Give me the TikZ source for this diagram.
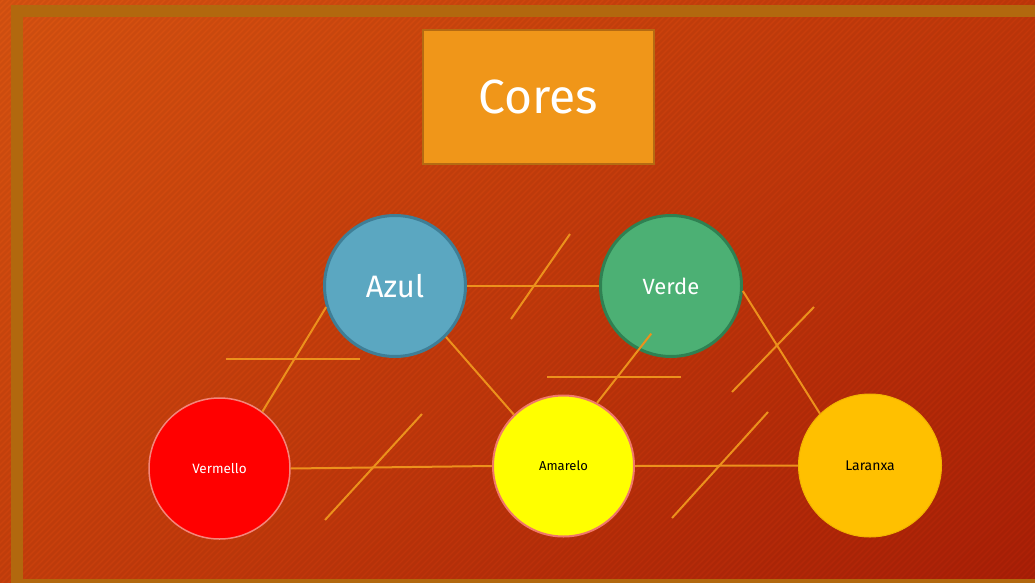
\documentclass[tikz,border=0pt]{standalone}
\usepackage{fontspec}
\setmainfont{Fira Sans}
\usetikzlibrary{shadings}
\definecolor{bgUL}{HTML}{DA5411}
\definecolor{bgUR}{HTML}{C4380A}
\definecolor{bgLL}{HTML}{C9400C}
\definecolor{bgLR}{HTML}{AC1F07}
\definecolor{frameC}{HTML}{B2680E}
\definecolor{titleF}{HTML}{F09619}
\definecolor{titleD}{HTML}{B56A12}
\definecolor{lineC}{HTML}{EC911C}
\definecolor{azulF}{HTML}{5BA7C1}
\definecolor{azulD}{HTML}{3F7E96}
\definecolor{verdeF}{HTML}{4CB074}
\definecolor{verdeD}{HTML}{2F8152}
\definecolor{vermF}{HTML}{FF0000}
\definecolor{vermD}{HTML}{F4857A}
\definecolor{amarF}{HTML}{FFFF00}
\definecolor{amarD}{HTML}{F0786A}
\definecolor{laraF}{HTML}{FFC000}
\definecolor{laraD}{HTML}{F2B400}
\tikzset{
  colorball/.style={circle, inner sep=0pt, minimum size=141pt, line width=2pt},
  link/.style={draw=lineC, line width=2pt},
  stripe/.style={draw=black, draw opacity=0.05, line width=2.5pt},
}
\begin{document}
\begin{tikzpicture}[x=1pt,y=-1pt]
\useasboundingbox (0,0) rectangle (1035,583);
\clip (0,0) rectangle (1035,583);
% background
\shade[upper left=bgUL, upper right=bgUR, lower left=bgLL, lower right=bgLR] (0,0) rectangle (1035,583);
\foreach \s in {-590,-584,...,1040} {
  \draw[stripe] (\s,590) -- (\s+600,-10);
}
% frame
\draw[frameC, line width=12pt] (17,11) rectangle (1045,585);
% title
\node[draw=titleD, fill=titleF, line width=2pt, minimum width=231pt, minimum height=134pt, inner sep=0pt, text=white, font=\fontsize{48}{56}\selectfont] (title) at (538,97) {Cores};
% circles
\node[colorball, draw=azulD, fill=azulF, line width=3pt, text=white, font=\fontsize{31}{37}\selectfont] (azul) at (395,286) {Azul};
\node[colorball, draw=verdeD, fill=verdeF, line width=3pt, text=white, font=\fontsize{22}{26}\selectfont] (verde) at (671,286) {Verde};
\node[colorball, draw=vermD, fill=vermF, line width=1.5pt, text=white, font=\fontsize{13.5}{16}\selectfont] (verm) at (219.5,468.5) {Vermello};
\node[colorball, draw=amarD, fill=amarF, line width=2pt, text=black, font=\fontsize{13}{16}\selectfont] (amar) at (563.5,466) {Amarelo};
\node[colorball, draw=laraD, fill=laraF, line width=1pt, minimum size=143pt, text=black, font=\fontsize{14}{17}\selectfont] (lara) at (870,465.5) {Laranxa};
% connectors
\draw[link] (azul.east) -- (verde.west);
\draw[link] (azul.197.6) -- (verm.53.6);
\draw[link] (azul.-45) -- (amar.134);
\draw[link, shorten <=-21pt] (verde.243.4) -- (amar.62.8);
\draw[link] (verde.-4) -- (lara.134);
\draw[link] (verm.east) -- (amar.west);
\draw[link] (amar.east) -- (lara.west);
% decorative strokes
\coordinate (d1a) at (570,234); \coordinate (d1b) at (511,319);
\coordinate (d2a) at (226,359); \coordinate (d2b) at (360,359);
\coordinate (d3a) at (547,377); \coordinate (d3b) at (681,377);
\coordinate (d4a) at (814,307); \coordinate (d4b) at (732,392);
\coordinate (d5a) at (422,414); \coordinate (d5b) at (325,520);
\coordinate (d6a) at (768,412); \coordinate (d6b) at (672,518);
\draw[link] (d1a) -- (d1b);
\draw[link] (d2a) -- (d2b);
\draw[link] (d3a) -- (d3b);
\draw[link] (d4a) -- (d4b);
\draw[link] (d5a) -- (d5b);
\draw[link] (d6a) -- (d6b);
\end{tikzpicture}
\end{document}
